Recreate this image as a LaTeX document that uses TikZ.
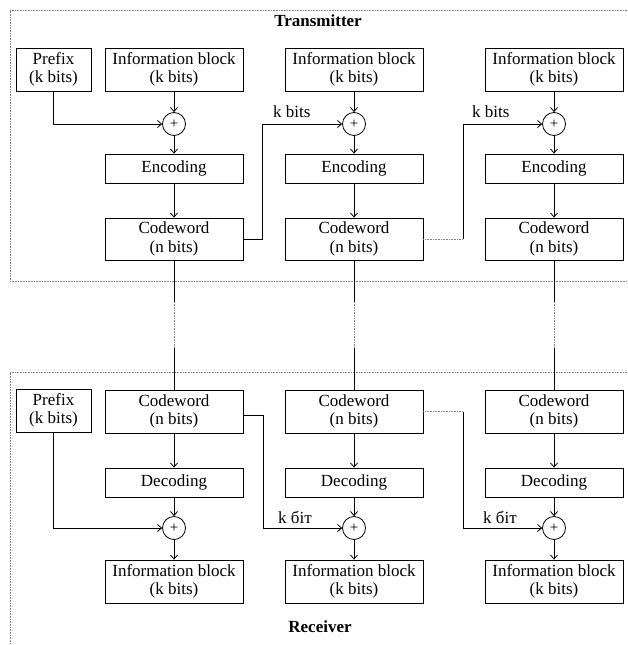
\documentclass[tikz,border=0pt]{standalone}
\usepackage{fontspec}
\setmainfont{Liberation Serif}
\usetikzlibrary{arrows.meta,calc}

\begin{document}
\begin{tikzpicture}[x=1pt,y=-1pt,
		blk/.style={draw, line width=0.8pt, align=center, inner sep=0pt, minimum width=138pt, minimum height=43pt, font=\fontsize{17}{18.5}\selectfont},
		thinblk/.style={blk, minimum height=29pt},
		prefixbox/.style={blk, minimum width=75pt},
		sumnode/.style={draw, circle, line width=0.8pt, minimum size=23pt, inner sep=0pt, font=\fontsize{15}{15}\selectfont},
		arr/.style={-{Straight Barb[length=4pt,width=7pt]}, line width=0.8pt},
		ln/.style={line width=0.8pt},
		dotline/.style={gray, line width=0.7pt, dash pattern=on 0.8pt off 0.8pt},
		lbl/.style={font=\fontsize{17}{18.5}\selectfont, inner sep=0pt, anchor=base west},
		ttl/.style={font=\fontsize{17}{18.5}\selectfont\bfseries, inner sep=0pt, anchor=base}]
			\useasboundingbox (0,0) rectangle (627,645);
			\draw[dotline] (627,10) -| (10,281) -- (627,281);
			\draw[dotline] (627,372) -| (10,645);
			\node[ttl] (tx) at (318,27) {Transmitter};
			\node[ttl] (rx) at (320,632) {Receiver};

			\node[prefixbox] (preT) at (53.5,69.5) {Prefix\\(k bits)};
			\node[blk] (infT1) at (174,69.5) {Information block\\(k bits)};
			\node[blk] (infT2) at (354,69.5) {Information block\\(k bits)};
			\node[blk] (infT3) at (554,69.5) {Information block\\(k bits)};
			\node[sumnode] (sumT1) at (174,124) {+};
			\node[sumnode] (sumT2) at (354,124) {+};
			\node[sumnode] (sumT3) at (554,124) {+};
			\node[thinblk] (encT1) at (174,168.5) {Encoding};
			\node[thinblk] (encT2) at (354,168.5) {Encoding};
			\node[thinblk] (encT3) at (554,168.5) {Encoding};
			\node[blk, minimum height=42pt] (cwT1) at (174,239) {Codeword\\(n bits)};
			\node[blk, minimum height=42pt] (cwT2) at (354,239) {Codeword\\(n bits)};
			\node[blk, minimum height=42pt] (cwT3) at (554,239) {Codeword\\(n bits)};

			\draw[arr] (preT) |- (sumT1);
			\draw[arr] (infT1) -- (sumT1);
			\draw[arr] (infT2) -- (sumT2);
			\draw[arr] (infT3) -- (sumT3);
			\draw[arr] (sumT1) -- (encT1);
			\draw[arr] (sumT2) -- (encT2);
			\draw[arr] (sumT3) -- (encT3);
			\draw[arr] (encT1) -- (cwT1);
			\draw[arr] (encT2) -- (cwT2);
			\draw[arr] (encT3) -- (cwT3);

			\coordinate (kT2) at (262,124);
			\coordinate (jT3) at (463,239);
			\coordinate (kT3) at (463,124);
			\draw[arr] (cwT1) -| (kT2) -- (sumT2);
			\draw[dotline] (cwT2) -- (jT3);
			\draw[arr] (jT3) -- (kT3) -- (sumT3);
			\node[lbl] (kbT2) at (273,117) {k bits};
			\node[lbl] (kbT3) at (472,117) {k bits};

			\node[prefixbox] (preR) at (53.5,410.5) {Prefix\\(k bits)};
			\node[blk] (cwR1) at (174,411.5) {Codeword\\(n bits)};
			\node[blk] (cwR2) at (354,411.5) {Codeword\\(n bits)};
			\node[blk] (cwR3) at (554,411.5) {Codeword\\(n bits)};
			\node[thinblk] (decR1) at (174,482.5) {Decoding};
			\node[thinblk] (decR2) at (354,482.5) {Decoding};
			\node[thinblk] (decR3) at (554,482.5) {Decoding};
			\node[sumnode] (sumR1) at (174,528) {+};
			\node[sumnode] (sumR2) at (354,528) {+};
			\node[sumnode] (sumR3) at (554,528) {+};
			\node[blk] (infR1) at (174,581.5) {Information block\\(k bits)};
			\node[blk] (infR2) at (354,581.5) {Information block\\(k bits)};
			\node[blk] (infR3) at (554,581.5) {Information block\\(k bits)};

			\draw[arr] (cwR1) -- (decR1);
			\draw[arr] (cwR2) -- (decR2);
			\draw[arr] (cwR3) -- (decR3);
			\draw[arr] (decR1) -- (sumR1);
			\draw[arr] (decR2) -- (sumR2);
			\draw[arr] (decR3) -- (sumR3);
			\draw[arr] (sumR1) -- (infR1);
			\draw[arr] (sumR2) -- (infR2);
			\draw[arr] (sumR3) -- (infR3);
			\draw[arr] (preR) |- (sumR1);

			\coordinate (jR2) at (263,415);
			\coordinate (jR3) at (463,411.5);
			\draw[arr] ($(cwR1.east)+(0,3.5)$) -- (jR2) |- (sumR2);
			\draw[dotline] (cwR2) -- (jR3);
			\draw[arr] (jR3) |- (sumR3);
			\node[lbl] (kbR2) at (278,523) {k біт};
			\node[lbl] (kbR3) at (483,523) {k біт};

			\coordinate (brk1a) at (174,302);
			\coordinate (brk1b) at (174,348);
			\coordinate (brk2a) at (354,302);
			\coordinate (brk2b) at (354,348);
			\coordinate (brk3a) at (554,302);
			\coordinate (brk3b) at (554,348);
			\draw[ln] (cwT1) -- (brk1a);
			\draw[ln] (cwT2) -- (brk2a);
			\draw[ln] (cwT3) -- (brk3a);
			\draw[dotline] (brk1a) -- (brk1b);
			\draw[dotline] (brk2a) -- (brk2b);
			\draw[dotline] (brk3a) -- (brk3b);
			\draw[ln] (brk1b) -- (cwR1);
			\draw[ln] (brk2b) -- (cwR2);
			\draw[ln] (brk3b) -- (cwR3);
		\end{tikzpicture}
\end{document}
